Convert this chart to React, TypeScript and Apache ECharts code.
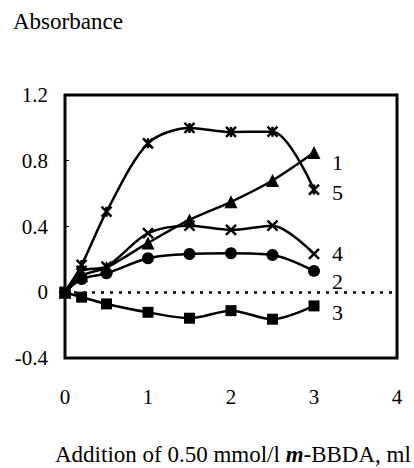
import React, { useEffect, useRef } from "react";
import * as echarts from "echarts";

const xValues = [0, 0.2, 0.5, 1, 1.5, 2, 2.5, 3];
const series1 = [0, 0.1, 0.15, 0.3, 0.44, 0.55, 0.68, 0.85];
const series2 = [0, 0.08, 0.115, 0.207, 0.233, 0.237, 0.227, 0.13];
const series3 = [0, -0.03, -0.071, -0.122, -0.158, -0.112, -0.164, -0.083];
const series4 = [0, 0.13, 0.156, 0.359, 0.405, 0.379, 0.405, 0.233];
const series5 = [0, 0.166, 0.49, 0.906, 1.0, 0.975, 0.977, 0.625];
const seriesNames = ["1", "2", "3", "4", "5"];
const yTicks = { min: -0.4, max: 1.2, interval: 0.4 };
const xTicks = { min: 0, max: 4, interval: 1 };

const FONT = "'Liberation Serif', 'DejaVu Serif', serif";
const X_PATH = "path://M0,0L10,10M10,0L0,10";
const STAR_PATH = "path://M0,0L10,10M10,0L0,10M5,0L5,10";

export default function App() {
  const ref = useRef<HTMLDivElement>(null);
  useEffect(() => {
    if (!ref.current) return;
    const chart = echarts.init(ref.current, null, { renderer: "svg" });
    const pair = (vals: number[]) => xValues.map((x, i) => [x, vals[i]]);
    const mk = (
      name: string,
      vals: number[],
      symbol: string,
      size: number,
      offset: [number, number],
      extra: any = {}
    ) => ({
      name,
      type: "line",
      data: pair(vals),
      smooth: 0.3,
      symbol,
      symbolSize: size,
      lineStyle: { color: "#000", width: 2.5 },
      itemStyle: { color: "#000", borderColor: "#000", borderWidth: symbol.startsWith("path") ? 2.5 : 0 },
      endLabel: {
        show: true,
        formatter: name,
        color: "#000",
        fontFamily: FONT,
        fontSize: 22,
        offset,
      },
      ...extra,
    });
    chart.setOption({
      animation: false,
      backgroundColor: "#fff",
      grid: {
        left: 65,
        top: 95,
        right: 17,
        bottom: 110,
        show: true,
        borderColor: "#000",
        borderWidth: 3,
        backgroundColor: "transparent",
      },
      graphic: [
        {
          type: "text",
          left: 13,
          top: 10,
          style: { text: "Absorbance", font: `23px ${FONT}`, fill: "#000" },
        },
        {
          type: "text",
          left: 55,
          top: 443,
          style: {
            rich: {
              n: { fontFamily: FONT, fontSize: 23, fill: "#000" },
              i: { fontFamily: FONT, fontSize: 23, fontStyle: "italic", fontWeight: "bold", fill: "#000" },
            },
            text: "{n|Addition of 0.50 mmol/l }{i|m}{n|-BBDA, ml}",
          },
        },
      ],
      xAxis: {
        type: "value",
        min: xTicks.min,
        max: xTicks.max,
        interval: xTicks.interval,
        axisLine: { show: false },
        axisTick: { show: false },
        splitLine: { show: false },
        axisLabel: { color: "#000", fontFamily: FONT, fontSize: 21, margin: 28 },
      },
      yAxis: {
        type: "value",
        min: yTicks.min,
        max: yTicks.max,
        interval: yTicks.interval,
        axisLine: { show: false },
        axisTick: { show: true, inside: true, length: 4, lineStyle: { color: "#000", width: 1 } },
        splitLine: { show: false },
        axisLabel: { color: "#000", fontFamily: FONT, fontSize: 21, margin: 17 },
      },
      series: [
        mk(seriesNames[0], series1, "triangle", 13, [10, 10], {
          markLine: {
            silent: true,
            symbol: "none",
            label: { show: false },
            lineStyle: { color: "#000", type: [3, 6], width: 2.5 },
            data: [{ yAxis: 0 }],
          },
        }),
        mk(seriesNames[1], series2, "circle", 12, [10, 11]),
        mk(seriesNames[2], series3, "rect", 11, [10, 7]),
        mk(seriesNames[3], series4, X_PATH, 10, [10, 0]),
        mk(seriesNames[4], series5, STAR_PATH, 10, [10, 3]),
      ],
    });
    return () => chart.dispose();
  }, []);
  return <div ref={ref} style={{ width: 414, height: 468, position: "absolute", left: 0, top: 0 }} />;
}
